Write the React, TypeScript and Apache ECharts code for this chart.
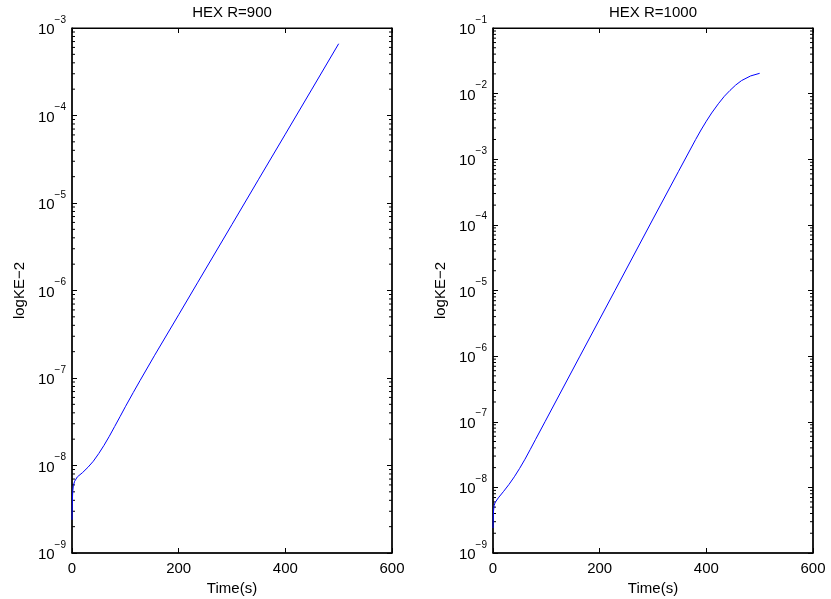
import React, { useEffect, useRef } from "react";
import * as echarts from "echarts";

// Kinetic energy growth, HEX case R=900
const TIME_R900 = [0, 0.5, 1, 1.5, 2.5, 5, 10, 20, 30, 40, 50, 60, 70, 80, 90, 100, 115, 127.5, 155, 200, 236, 300, 350, 400, 449, 500];
const KE_R900 = [
  2.4e-9, 3.55e-9, 4.47e-9, 5.13e-9, 5.89e-9, 6.61e-9, 7.41e-9, 8.32e-9, 9.55e-9, 1.12e-8, 1.365e-8, 1.7e-8,
  2.16e-8, 2.79e-8, 3.61e-8, 4.69e-8, 6.85e-8, 9.33e-8, 1.82e-7, 5.28e-7, 1.245e-6, 5.69e-6, 1.87e-5, 6.12e-5,
  1.96e-4, 6.61e-4,
];

// Kinetic energy growth, HEX case R=1000
const TIME_R1000 = [0, 0.5, 1, 2, 4, 10, 20, 30, 40, 50, 60, 70, 80, 97.5, 163, 228.7, 300, 347.5, 380, 390, 400, 410, 422.5, 433.8, 444.4, 455, 466, 483, 500];
const KE_R1000 = [
  2.4e-9, 3.55e-9, 4.37e-9, 5.25e-9, 5.89e-9, 6.92e-9, 8.71e-9, 1.11e-8, 1.45e-8, 1.95e-8, 2.69e-8, 3.8e-8,
  5.41e-8, 1.0e-7, 1.0e-6, 1.0e-5, 1.23e-4, 6.46e-4, 2.0e-3, 2.79e-3, 3.8e-3, 5.07e-3, 7.0e-3, 9.12e-3,
  1.12e-2, 1.35e-2, 1.58e-2, 1.86e-2, 2.04e-2,
];

const PANEL_TITLES = ["HEX R=900", "HEX R=1000"];
const X_LABEL = "Time(s)";
const Y_LABEL = "logKE\u22122";
// decade exponents bounding each panel's log axis
const Y_EXP_MIN = [-9, -9];
const Y_EXP_MAX = [-3, -1];
const X_MIN = 0;
const X_MAX = 600;
const X_STEP = 200;

const FONT = "'Liberation Sans', Arial, Helvetica, sans-serif";
const FS = 15;
const MAJOR_LEN = 5;
const MINOR_LEN = 3;
const LINE_BLUE = "#0000ff";

const GRIDS = [
  { left: 72, top: 28, width: 320, height: 525 },
  { left: 493, top: 28, width: 320, height: 525 },
];

function powLabel(v: number): string {
  const e = Math.round(Math.log10(v));
  return `{b|10}{s|${e < 0 ? "\u2212" : ""}${Math.abs(e)}}`;
}

function minorValues(eMin: number, eMax: number): number[][] {
  const out: number[][] = [];
  for (let e = eMin; e < eMax; e++) {
    for (let k = 2; k <= 9; k++) out.push([X_MIN, k * Math.pow(10, e)]);
  }
  return out;
}

const frame = (w: number) => ({ show: true, onZero: false, lineStyle: { color: "#000", width: w } });
const tick = () => ({ show: true, inside: true, length: MAJOR_LEN, lineStyle: { color: "#000", width: 1 } });

export default function App() {
  const ref = useRef<HTMLDivElement>(null);

  useEffect(() => {
    if (!ref.current) return;
    const chart = echarts.init(ref.current, null, { renderer: "svg" });

    const xAxes: any[] = [];
    const yAxes: any[] = [];
    const series: any[] = [];
    const lines = [
      { t: TIME_R900, v: KE_R900 },
      { t: TIME_R1000, v: KE_R1000 },
    ];

    GRIDS.forEach((_, g) => {
      const yMin = Math.pow(10, Y_EXP_MIN[g]);
      const yMax = Math.pow(10, Y_EXP_MAX[g]);
      // bottom x axis
      xAxes.push({
        type: "value",
        gridIndex: g,
        position: "bottom",
        min: X_MIN,
        max: X_MAX,
        interval: X_STEP,
        axisLine: frame(1.5),
        axisTick: tick(),
        axisLabel: { color: "#000", fontSize: FS, fontFamily: FONT, margin: 7 },
        splitLine: { show: false },
        name: X_LABEL,
        nameLocation: "middle",
        nameGap: 24,
        nameTextStyle: { color: "#000", fontSize: FS, fontFamily: FONT, verticalAlign: "top" },
      });
      // top x axis carries the panel title
      xAxes.push({
        type: "value",
        gridIndex: g,
        position: "top",
        min: X_MIN,
        max: X_MAX,
        interval: X_STEP,
        axisLine: frame(1),
        axisTick: tick(),
        axisLabel: { show: false },
        splitLine: { show: false },
        name: PANEL_TITLES[g],
        nameLocation: "middle",
        nameGap: 9,
        nameTextStyle: { color: "#000", fontSize: FS, fontFamily: FONT, verticalAlign: "bottom" },
      });
      // left log axis
      yAxes.push({
        type: "log",
        gridIndex: g,
        position: "left",
        min: yMin,
        max: yMax,
        interval: 1,
        axisLine: frame(1.5),
        axisTick: tick(),
        axisLabel: {
          color: "#000",
          margin: 6,
          padding: [0, 0, 6, 0],
          formatter: powLabel,
          rich: {
            b: { fontSize: FS, fontFamily: FONT, color: "#000", lineHeight: 22, verticalAlign: "bottom" },
            s: { fontSize: 10, fontFamily: FONT, color: "#000", lineHeight: 12, verticalAlign: "top" },
          },
        },
        splitLine: { show: false },
        name: Y_LABEL,
        nameLocation: "middle",
        nameRotate: 90,
        nameGap: 46,
        nameTextStyle: { color: "#000", fontSize: FS, fontFamily: FONT },
      });
      // right log axis
      yAxes.push({
        type: "log",
        gridIndex: g,
        position: "right",
        min: yMin,
        max: yMax,
        interval: 1,
        axisLine: frame(1.5),
        axisTick: tick(),
        axisLabel: { show: false },
        splitLine: { show: false },
      });

      series.push({
        type: "line",
        xAxisIndex: g * 2,
        yAxisIndex: g * 2,
        data: lines[g].t.map((t, i) => [t, lines[g].v[i]]),
        showSymbol: false,
        color: LINE_BLUE,
        lineStyle: { color: LINE_BLUE, width: 1 },
        silent: true,
      });

      // minor log ticks (2..9 of each decade) on both vertical edges
      series.push({
        type: "custom",
        xAxisIndex: g * 2,
        yAxisIndex: g * 2,
        silent: true,
        data: minorValues(Y_EXP_MIN[g], Y_EXP_MAX[g]),
        renderItem: (params: any, api: any) => {
          const y = api.coord([api.value(0), api.value(1)])[1];
          const cs = params.coordSys;
          return {
            type: "group",
            children: [
              {
                type: "line",
                shape: { x1: cs.x, y1: y, x2: cs.x + MINOR_LEN, y2: y },
                style: { stroke: "#000", lineWidth: 1 },
              },
              {
                type: "line",
                shape: { x1: cs.x + cs.width, y1: y, x2: cs.x + cs.width - MINOR_LEN, y2: y },
                style: { stroke: "#000", lineWidth: 1 },
              },
            ],
          };
        },
      });
    });

    chart.setOption({
      animation: false,
      grid: GRIDS.map((g) => ({
        ...g,
        outerBoundsMode: "none",
        show: true,
        borderColor: "#000",
        borderWidth: 1,
        backgroundColor: "transparent",
      })),
      xAxis: xAxes,
      yAxis: yAxes,
      series,
    });

    return () => chart.dispose();
  }, []);

  return <div ref={ref} style={{ position: "fixed", left: 0, top: 0, width: 831, height: 599 }} />;
}
